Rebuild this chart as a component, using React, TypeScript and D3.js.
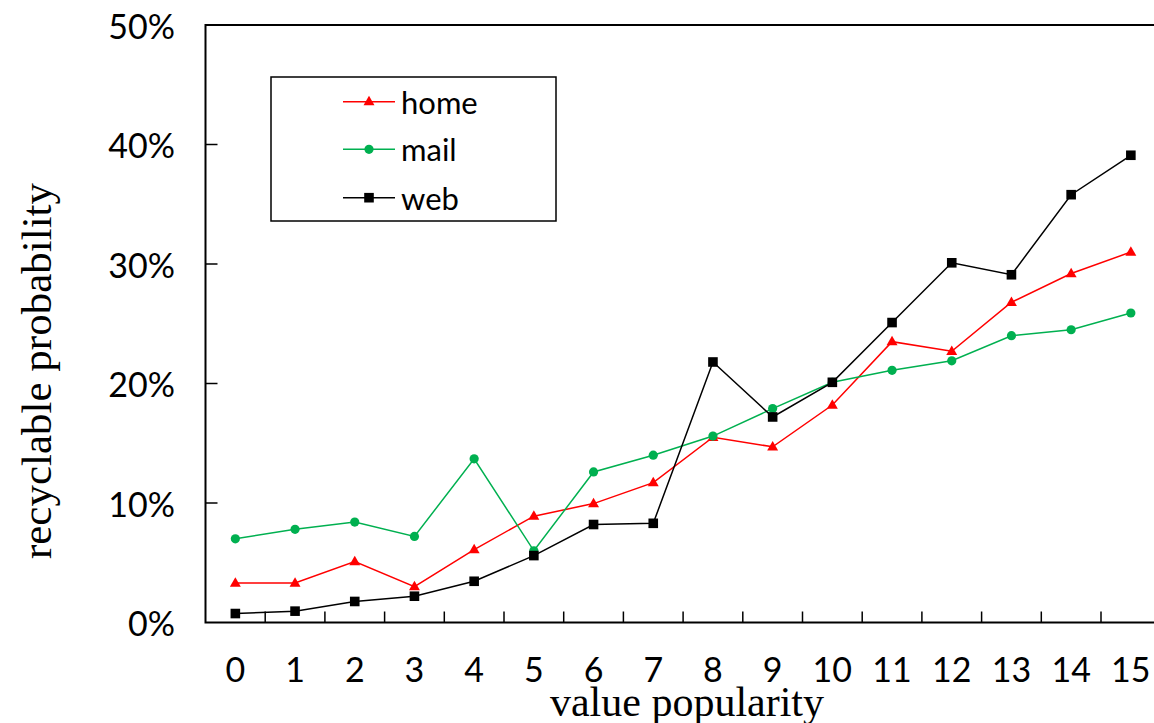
import React from "react";
import * as d3 from "d3";

// Popularity buckets on the x axis
const categories: string[] = ["0", "1", "2", "3", "4", "5", "6", "7", "8", "9", "10", "11", "12", "13", "14", "15"];

// Recyclable probability (%) per popularity bucket
const homeValues: number[] = [3.3, 3.3, 5.1, 3.0, 6.1, 8.9, 9.95, 11.7, 15.5, 14.7, 18.2, 23.5, 22.7, 26.8, 29.2, 31.0];
const mailValues: number[] = [7.0, 7.8, 8.4, 7.2, 13.7, 6.0, 12.6, 14.0, 15.6, 17.9, 20.1, 21.1, 21.9, 24.0, 24.5, 25.9];
const webValues: number[] = [0.75, 0.95, 1.76, 2.2, 3.45, 5.6, 8.2, 8.3, 21.8, 17.2, 20.1, 25.1, 30.1, 29.1, 35.8, 39.1];

const yTicks: number[] = [0, 10, 20, 30, 40, 50];

const seriesNames: string[] = ["home", "mail", "web"];

const WIDTH = 1154;
const HEIGHT = 723;
const PLOT_LEFT = 205.5;
const PLOT_RIGHT = 1160.7;
const PLOT_TOP = 25;
const PLOT_BOTTOM = 622.5;

const TICK_FONT = "Lato, 'Open Sans', sans-serif";
const TITLE_FONT = "'Liberation Serif', 'DejaVu Serif', serif";

type Marker = "triangle" | "circle" | "square";

const series: { name: string; values: number[]; color: string; marker: Marker }[] = [
  { name: seriesNames[0], values: homeValues, color: "#ff0000", marker: "triangle" },
  { name: seriesNames[1], values: mailValues, color: "#00b050", marker: "circle" },
  { name: seriesNames[2], values: webValues, color: "#000000", marker: "square" },
];

function MarkerShape({ kind, x, y, color }: { kind: Marker; x: number; y: number; color: string }) {
  if (kind === "circle") {
    return <circle cx={x} cy={y} r={4.6} fill={color} />;
  }
  if (kind === "square") {
    return <rect x={x - 4.8} y={y - 4.8} width={9.6} height={9.6} fill={color} />;
  }
  const tri = d3.symbol(d3.symbolTriangle, 52)();
  return <path d={tri ?? ""} transform={`translate(${x},${y + 0.5})`} fill={color} />;
}

export default function App() {
  const x = d3.scaleBand<string>().domain(categories).range([PLOT_LEFT, PLOT_RIGHT]).padding(0);
  const y = d3.scaleLinear().domain([0, 50]).range([PLOT_BOTTOM, PLOT_TOP]);
  const cx = (c: string) => (x(c) ?? 0) + x.bandwidth() / 2;

  const line = d3
    .line<number>()
    .x((_, i) => cx(categories[i]))
    .y((v) => y(v));

  // Tick marks between neighbouring buckets
  const boundaries = categories.slice(1).map((c) => x(c) ?? 0);

  const legendLeft = 271;
  const legendTop = 77;
  const legendRows = [101.7, 149.3, 197.7];

  return (
    <svg
      width={WIDTH}
      height={HEIGHT}
      style={{ position: "absolute", left: 0, top: 0, background: "#fff" }}
    >
      <rect x={0} y={0} width={WIDTH} height={HEIGHT} fill="#fff" />

      {/* plot frame */}
      <rect
        x={PLOT_LEFT}
        y={PLOT_TOP}
        width={PLOT_RIGHT - PLOT_LEFT}
        height={PLOT_BOTTOM - PLOT_TOP}
        fill="none"
        stroke="#000"
        strokeWidth={2}
      />

      {/* y ticks and labels */}
      {yTicks.map((t) => (
        <g key={`y${t}`}>
          {t > 0 && t < 50 && (
            <line x1={PLOT_LEFT} x2={PLOT_LEFT + 12} y1={y(t)} y2={y(t)} stroke="#000" strokeWidth={1.5} />
          )}
          <text
            x={175}
            y={y(t)}
            textAnchor="end"
            dominantBaseline="central"
            fontFamily={TICK_FONT}
            fontSize={34}
            fill="#000"
          >
            {`${t}%`}
          </text>
        </g>
      ))}

      {/* x ticks and labels */}
      {boundaries.map((b, i) => (
        <line key={`xt${i}`} x1={b} x2={b} y1={PLOT_BOTTOM} y2={PLOT_BOTTOM - 11} stroke="#000" strokeWidth={1.5} />
      ))}
      {categories.map((c) => (
        <text
          key={`xl${c}`}
          x={cx(c)}
          y={668}
          textAnchor="middle"
          dominantBaseline="central"
          fontFamily={TICK_FONT}
          fontSize={34}
          fill="#000"
        >
          {c}
        </text>
      ))}

      {/* axis titles */}
      <text
        x={687}
        y={716}
        textAnchor="middle"
        fontFamily={TITLE_FONT}
        fontSize={42}
        fill="#000"
      >
        value popularity
      </text>
      <text
        transform="translate(51,371) rotate(-90)"
        textAnchor="middle"
        fontFamily={TITLE_FONT}
        fontSize={43}
        fill="#000"
      >
        recyclable probability
      </text>

      {/* series */}
      {series.map((s) => (
        <g key={s.name}>
          <path d={line(s.values) ?? ""} fill="none" stroke={s.color} strokeWidth={1.5} />
          {s.values.map((v, i) => (
            <MarkerShape key={i} kind={s.marker} x={cx(categories[i])} y={y(v)} color={s.color} />
          ))}
        </g>
      ))}

      {/* legend */}
      <rect x={legendLeft} y={legendTop} width={285} height={144} fill="#fff" stroke="#000" strokeWidth={1.5} />
      {series.map((s, i) => (
        <g key={`lg${s.name}`}>
          <line x1={343} x2={395} y1={legendRows[i]} y2={legendRows[i]} stroke={s.color} strokeWidth={1.5} />
          <MarkerShape kind={s.marker} x={369} y={legendRows[i]} color={s.color} />
          <text
            x={401}
            y={legendRows[i]}
            dominantBaseline="central"
            fontFamily={TICK_FONT}
            fontSize={31}
            fill="#000"
          >
            {s.name}
          </text>
        </g>
      ))}
    </svg>
  );
}
